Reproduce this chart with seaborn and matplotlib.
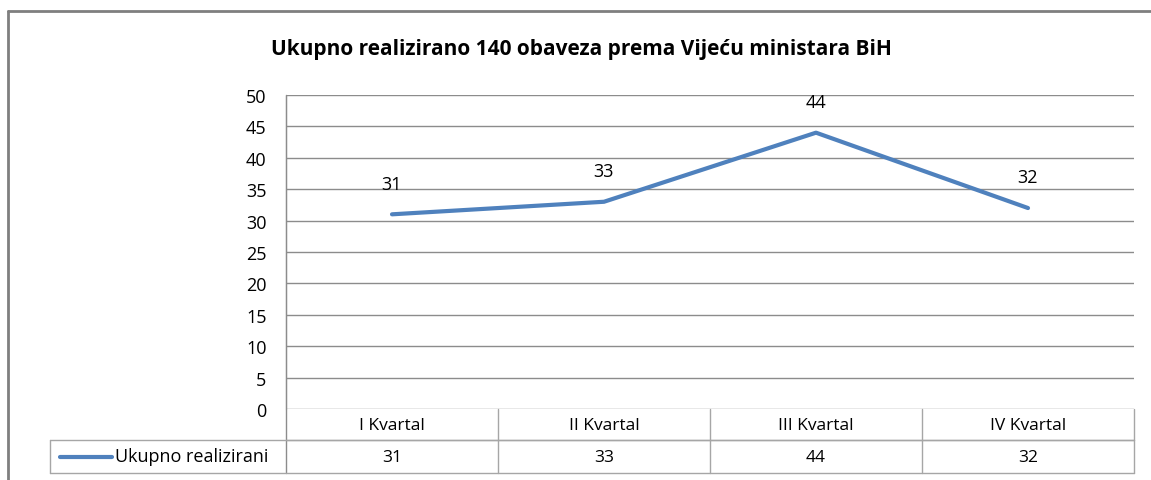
import numpy as np
import pandas as pd
import matplotlib
matplotlib.use('Agg')
import matplotlib.pyplot as plt
from matplotlib.lines import Line2D
import seaborn as sns

# chart data
categories = ['I Kvartal', 'II Kvartal', 'III Kvartal', 'IV Kvartal']
values = [31, 33, 44, 32]
series_name = 'Ukupno realizirani'
title = 'Ukupno realizirano 140 obaveza prema Vijeću ministara BiH'
y_ticks = list(range(0, 51, 5))

sns.set_style('white')
plt.rcParams['font.family'] = ['Liberation Sans Narrow', 'Open Sans', 'DejaVu Sans']
plt.rcParams['text.color'] = 'black'
plt.rcParams['ytick.color'] = 'black'

df = pd.DataFrame({'kvartal': categories, 'broj': values})
blue = '#4F81BD'
grid = '#8c8c8c'
tbl = '#a6a6a6'

fig = plt.figure(figsize=(11.51, 4.81), dpi=100)
ax = fig.add_axes([286 / 1151, 1 - 410 / 481, (1134 - 286) / 1151, 314 / 481])

sns.lineplot(data=df, x='kvartal', y='broj', ax=ax, color=blue, linewidth=3, sort=False)

ax.set_xlim(-0.5, len(categories) - 0.5)
ax.set_ylim(0, 50)
ax.set_yticks(y_ticks)
ax.set_yticklabels([str(t) for t in y_ticks], fontsize=13)
ax.tick_params(axis='y', length=0, pad=14, labelcolor='black')
ax.set_xticks([])
ax.set_xlabel('')
ax.set_ylabel('')
for t in y_ticks:
    ax.axhline(t, color=grid, linewidth=1, zorder=0)
for s in ['top', 'right', 'bottom']:
    ax.spines[s].set_visible(False)
ax.spines['left'].set_color(grid)

# data labels
for i, v in enumerate(values):
    ax.annotate(str(v), (i, v), xytext=(0, 22), textcoords='offset points',
                ha='center', va='center', fontsize=13, color='black')

# data table below the plot
trans = ax.get_xaxis_transform()
h1 = -31 / 314
h2 = -64 / 314
px = len(categories) / 848  # data units per pixel
x_left = -0.5 - (286 - 50) * px
for x in np.arange(-0.5, len(categories), 1.0):
    ax.plot([x, x], [0 if x > -0.5 else 1, h2], color=tbl if x > -0.5 else grid,
            linewidth=1, transform=trans, clip_on=False)
ax.plot([-0.5, 3.5], [h1, h1], color=tbl, linewidth=1, transform=trans, clip_on=False)
ax.plot([x_left, 3.5], [h1, h1], color=tbl, linewidth=1, transform=trans, clip_on=False)
ax.plot([x_left, 3.5], [h2, h2], color=tbl, linewidth=1, transform=trans, clip_on=False)
ax.plot([x_left, x_left], [h1, h2], color=tbl, linewidth=1, transform=trans, clip_on=False)

for i, c in enumerate(categories):
    ax.text(i, h1 / 2, c, transform=trans, ha='center', va='center', fontsize=12.5)
    ax.text(i, (h1 + h2) / 2, str(values[i]), transform=trans, ha='center', va='center', fontsize=12.5)

lx0 = x_left + 10 * px
lx1 = x_left + 62 * px
ax.plot([lx0, lx1], [(h1 + h2) / 2] * 2, color=blue, linewidth=3, transform=trans,
        clip_on=False, solid_capstyle='round')
ax.text(lx1 + 3 * px, (h1 + h2) / 2, series_name, transform=trans, ha='left', va='center', fontsize=13)

fig.text(0.505, 1 - 50 / 481, title, ha='center', va='center', fontsize=15, fontweight='bold')

# outer chart border (top and left visible)
fig.add_artist(Line2D([8 / 1151, 1], [1 - 12 / 481] * 2, color='#7f7f7f', linewidth=2))
fig.add_artist(Line2D([8 / 1151] * 2, [0, 1 - 12 / 481], color='#7f7f7f', linewidth=2))

fig.savefig('out.png', dpi=100)
